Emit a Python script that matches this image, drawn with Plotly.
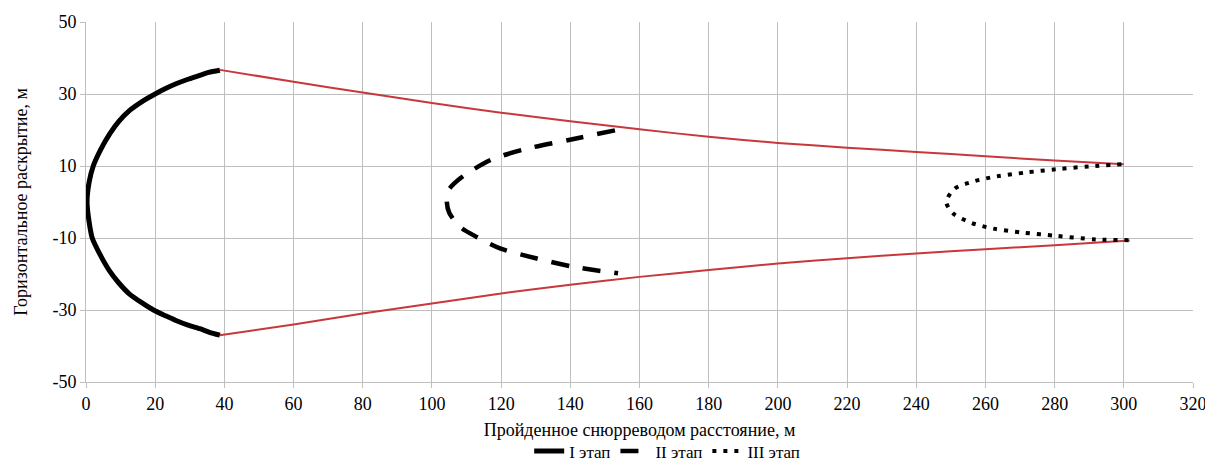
import plotly.graph_objects as go

# Stage I (solid)
stage1_x = [38.7, 35.5, 32.9, 29.5, 26.2, 23.0, 20.0, 16.2, 12.7, 9.5, 6.9, 4.2, 2.1, 0.9, 0.3, 0.9, 1.8, 4.0, 6.7, 9.5, 12.5, 16.0, 19.5, 23.0, 26.0, 29.5, 32.9, 35.7, 38.7]
stage1_y = [36.6, 36.0, 35.2, 34.1, 32.9, 31.5, 30.0, 27.9, 25.5, 22.4, 19.0, 14.5, 10.0, 5.5, 0.0, -5.5, -10.0, -14.5, -19.0, -22.5, -25.5, -27.9, -30.0, -31.6, -32.9, -34.2, -35.2, -36.2, -37.0]

# Stage II (dashed)
stage2_x = [152.9, 139.9, 127.4, 116.8, 108.1, 104.6, 104.3, 105.0, 108.1, 112.9, 119.7, 130.3, 140.9, 153.8]
stage2_y = [19.9, 17.3, 14.8, 11.6, 6.5, 3.0, 0.0, -3.0, -6.9, -9.7, -12.9, -15.7, -18.0, -19.8]

# Stage III (dotted)
stage3_x = [299.3, 290.1, 280.5, 271.8, 263.2, 256.9, 251.1, 248.7, 250.7, 256.0, 262.3, 270.9, 280.5, 292.0, 301.7]
stage3_y = [10.5, 9.9, 9.1, 8.2, 7.1, 5.8, 3.7, 0.0, -3.2, -5.8, -7.4, -8.5, -9.4, -10.4, -10.6]

# Red boundaries
upper_x = [38.7, 60, 80, 100, 120, 140, 160, 180, 200, 220, 240, 260, 280, 300]
upper_y = [36.7, 33.4, 30.4, 27.5, 24.8, 22.4, 20.2, 18.1, 16.4, 15.1, 13.9, 12.7, 11.5, 10.5]
lower_x = [38.7, 60, 80, 100, 120, 140, 160, 180, 200, 220, 240, 260, 280, 301.7]
lower_y = [-37.0, -34.0, -31.0, -28.2, -25.4, -23.0, -20.8, -18.9, -17.1, -15.6, -14.3, -13.1, -12.0, -10.7]

x_ticks = list(range(0, 321, 20))
y_ticks = [-50, -30, -10, 10, 30, 50]
y_ticktext = ["-50", "-30", "-10", "10", "30", "50"]

legend_names = ["I этап", "II этап", "III этап"]

FONT = "'Liberation Serif', 'Times New Roman', serif"
RED = "#C8373B"

fig = go.Figure()
fig.add_trace(go.Scatter(x=upper_x, y=upper_y, mode="lines", line=dict(color=RED, width=2, shape="spline", smoothing=0.6),
                         showlegend=False, hoverinfo="skip"))
fig.add_trace(go.Scatter(x=lower_x, y=lower_y, mode="lines", line=dict(color=RED, width=2, shape="spline", smoothing=0.6),
                         showlegend=False, hoverinfo="skip"))
fig.add_trace(go.Scatter(x=stage1_x, y=stage1_y, mode="lines", name=legend_names[0],
                         line=dict(color="black", width=5, shape="spline", smoothing=0.6)))
fig.add_trace(go.Scatter(x=stage2_x, y=stage2_y, mode="lines", name=legend_names[1],
                         line=dict(color="black", width=4.5, shape="spline", smoothing=0.8, dash="18px,14px")))
fig.add_trace(go.Scatter(x=stage3_x, y=stage3_y, mode="lines", name=legend_names[2],
                         line=dict(color="black", width=4, shape="spline", smoothing=0.8, dash="4px,7px")))

# The page has an 8px body margin, so the figure is 8px smaller and offsets reduced accordingly.
# Top margin is 0 (so legend auto-margin padding is 0) and the y domain leaves the 14px top gap.
FIG_W, FIG_H = 1205, 462
M_B = 88
PAPER_H = FIG_H - M_B
fig.update_layout(
    width=FIG_W, height=FIG_H,
    margin=dict(l=78, r=20, t=0, b=M_B),
    paper_bgcolor="white", plot_bgcolor="white",
    font=dict(family=FONT, size=18, color="black"),
    legend=dict(orientation="h", x=0.525, xanchor="center", y=-(M_B - 0.5) / PAPER_H, yanchor="bottom",
                font=dict(family=FONT, size=17), itemwidth=30, tracegroupgap=0),
    xaxis=dict(range=[0, 320], tickvals=x_ticks, showgrid=True, gridcolor="#BFBFBF", gridwidth=1,
               zeroline=False, showline=True, linecolor="#BFBFBF", ticks="outside", ticklen=5,
               tickcolor="#BFBFBF", automargin=False,
               title=dict(text="Пройденное снюрреводом расстояние, м", standoff=10, font=dict(family=FONT, size=18)),
               tickfont=dict(family=FONT, size=18)),
    yaxis=dict(range=[-50, 50], tickvals=y_ticks, ticktext=y_ticktext, showgrid=True, gridcolor="#BFBFBF", gridwidth=1,
               zeroline=False, showline=True, linecolor="#BFBFBF", ticks="outside", ticklen=5,
               tickcolor="#BFBFBF", automargin=False, domain=[0, (PAPER_H - 14) / PAPER_H],
               title=dict(text="Горизонтальное раскрытие, м", standoff=20, font=dict(family=FONT, size=18)),
               tickfont=dict(family=FONT, size=18)),
)
fig.write_html("out.html")
